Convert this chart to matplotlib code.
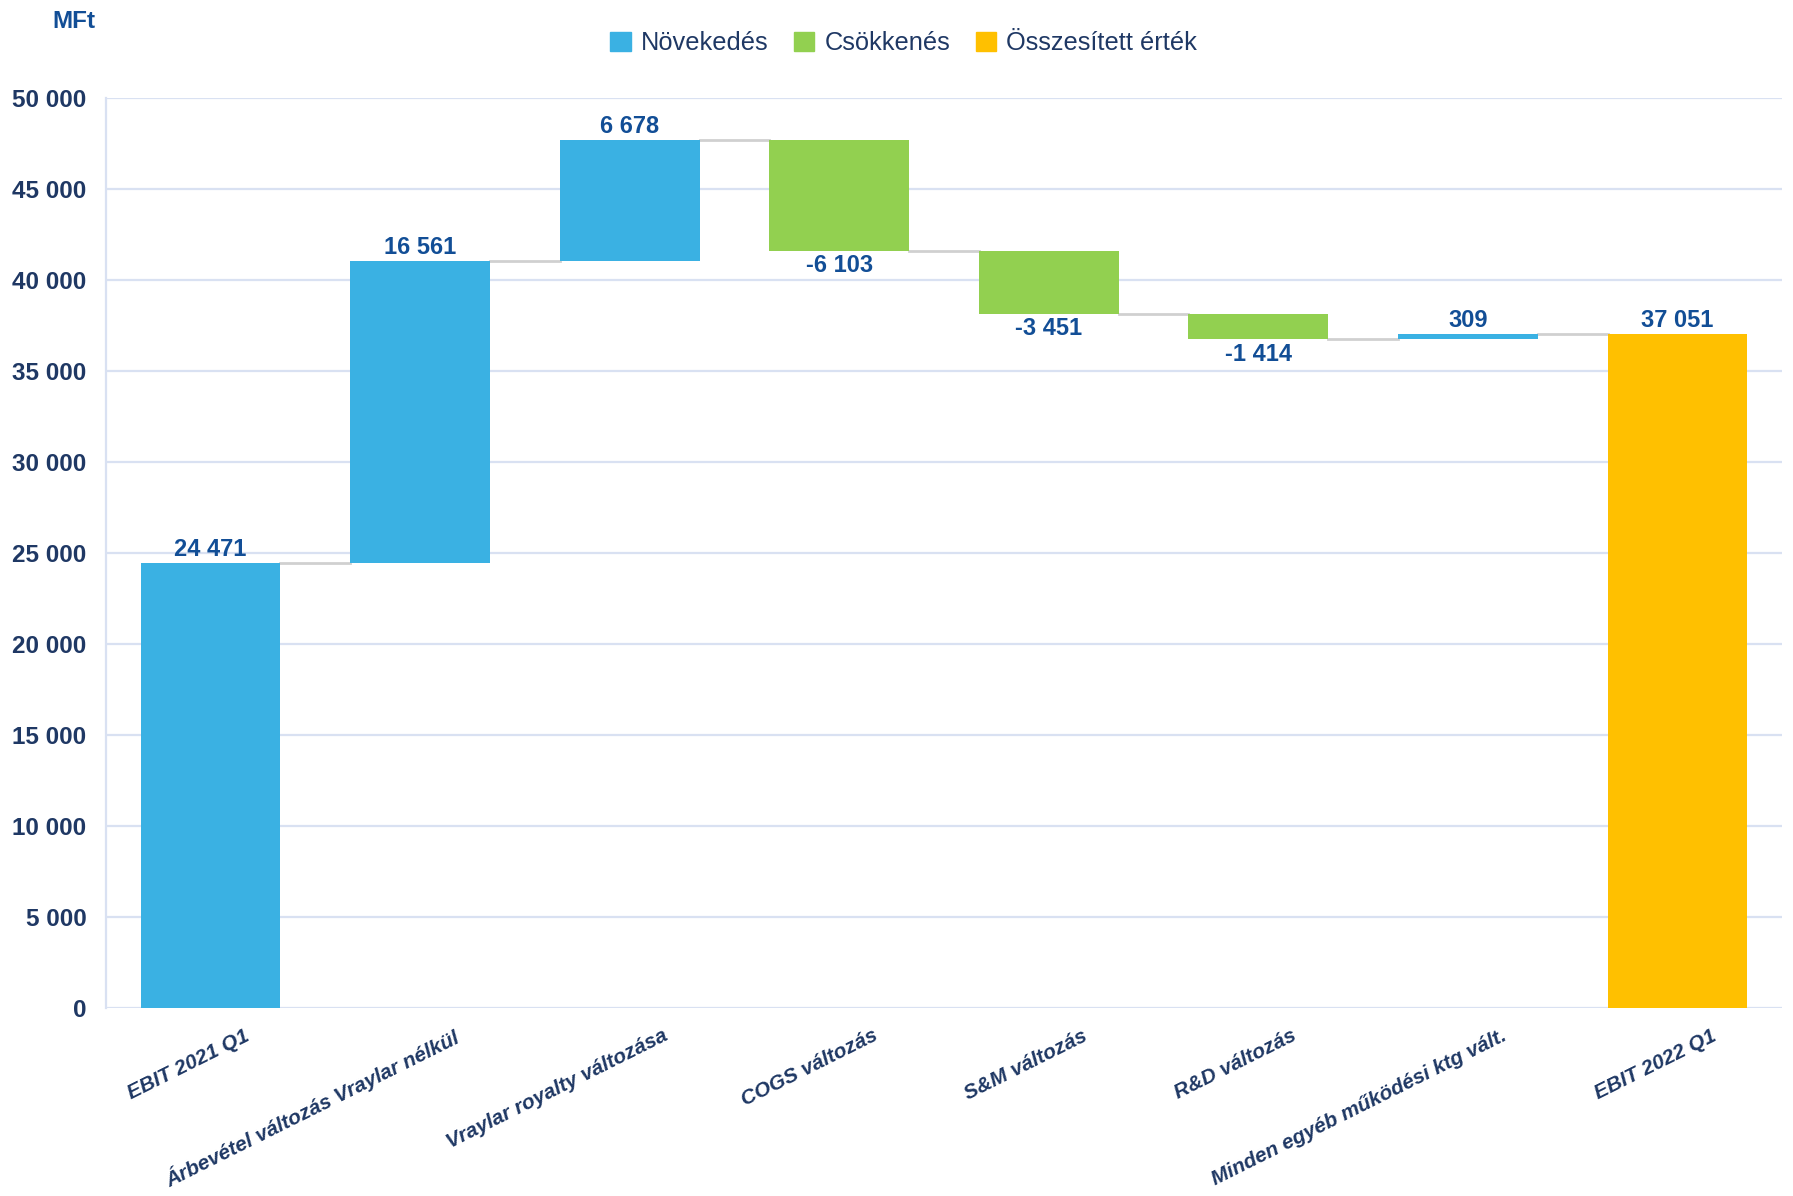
import numpy as np
import matplotlib.pyplot as plt
import matplotlib.transforms as mtransforms
from matplotlib.patches import Patch
from matplotlib.ticker import FuncFormatter

plt.rcParams['font.family'] = ['Liberation Sans', 'DejaVu Sans']

# adatok
categories = ['EBIT 2021 Q1', 'Árbevétel változás Vraylar nélkül', 'Vraylar royalty változása',
              'COGS változás', 'S&M változás', 'R&D változás',
              'Minden egyéb működési ktg vált.', 'EBIT 2022 Q1']
changes = [24471, 16561, 6678, -6103, -3451, -1414, 309]
total_value = 37051
legend_labels = ['Növekedés', 'Csökkenés', 'Összesített érték']

c_up = '#3AB1E3'
c_down = '#92D050'
c_total = '#FFC000'
c_label = '#124E96'
c_tick = '#1F3864'
c_grid = '#D9E1F2'

fig = plt.figure(figsize=(17.93, 11.96), dpi=100)
ax = fig.add_axes([0.059, 0.157, 0.935, 0.761])

# waterfall lépcsők
cum = np.cumsum(changes)
starts = np.concatenate([[0], cum[:-1]])
x = np.arange(len(categories))
width = 0.667

def fmt(v):
    return f'{int(v):,}'.replace(',', ' ')

for i, ch in enumerate(changes):
    bottom = starts[i] if ch >= 0 else starts[i] + ch
    ax.bar(x[i], abs(ch), bottom=bottom, width=width,
           color=c_up if ch >= 0 else c_down, zorder=3)
    if ch >= 0:
        ax.text(x[i], starts[i] + ch + 100, fmt(ch),
                ha='center', va='bottom', fontsize=17, fontweight='bold', color=c_label, zorder=5)
    else:
        ax.text(x[i], starts[i] + ch - 200, fmt(ch),
                ha='center', va='top', fontsize=17, fontweight='bold', color=c_label, zorder=5)

ax.bar(x[-1], total_value, width=width, color=c_total, zorder=3)
ax.text(x[-1], total_value + 100, fmt(total_value),
        ha='center', va='bottom', fontsize=17, fontweight='bold', color=c_label, zorder=5)

# összekötő vonalak
levels = list(cum)
for i in range(len(categories) - 1):
    ax.plot([x[i] + width / 2, x[i + 1] - width / 2], [levels[i], levels[i]],
            color='#D0D0D0', lw=2, zorder=2)

ax.set_xlim(-0.5, len(categories) - 0.5)
ax.set_ylim(0, 50000)
ax.set_yticks(np.arange(0, 50001, 5000))
ax.yaxis.set_major_formatter(FuncFormatter(lambda v, p: fmt(v)))
ax.grid(axis='y', color=c_grid, lw=1.6, zorder=0)
for s in ['top', 'right', 'bottom']:
    ax.spines[s].set_visible(False)
ax.spines['left'].set_color(c_grid)
ax.spines['left'].set_linewidth(1.6)
ax.tick_params(axis='both', length=0)
ax.tick_params(axis='y', pad=14)
for lab in ax.get_yticklabels():
    lab.set_fontsize(17.5)
    lab.set_fontweight('bold')
    lab.set_color(c_tick)

ax.set_xticks(x)
ax.set_xticklabels(categories, rotation=26.5, ha='right', rotation_mode='anchor',
                   fontsize=15, fontweight='bold', fontstyle='italic', color=c_tick)
offset = mtransforms.ScaledTranslation(0.33, -0.13, fig.dpi_scale_trans)
for lab in ax.get_xticklabels():
    lab.set_transform(lab.get_transform() + offset)

fig.text(0.029, 0.982, 'MFt', fontsize=17.5, fontweight='bold', color=c_label, va='center', ha='left')

handles = [Patch(color=c_up), Patch(color=c_down), Patch(color=c_total)]
fig.legend(handles, legend_labels, loc='center', bbox_to_anchor=(0.504, 0.964), ncol=3,
           frameon=False, fontsize=18.3, labelcolor=c_tick, handlelength=0.8, handleheight=0.8,
           handletextpad=0.4, columnspacing=1.0)

fig.savefig('out.png', dpi=100)
